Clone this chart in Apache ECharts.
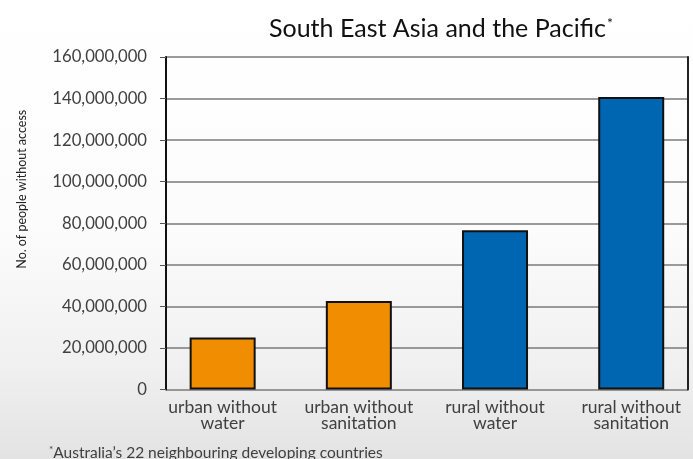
<!DOCTYPE html>
<html>
<head>
<meta charset="utf-8">
<title>South East Asia and the Pacific</title>
<script src="https://cdn.jsdelivr.net/npm/echarts@6/dist/echarts.min.js"></script>
<style>
  html, body { margin: 0; padding: 0; background: #fff; }
  #chart { width: 693px; height: 459px; }
</style>
</head>
<body>
<div id="chart"></div>
<script>
// Categories (line breaks as printed under each bar)
const categories = [
  'urban without\nwater',
  'urban without\nsanitation',
  'rural without\nwater',
  'rural without\nsanitation'
];
// Number of people without access
const peopleWithoutAccess = [25000000, 42600000, 76600000, 140800000];
// Area of each category: urban bars are orange, rural bars blue
const area = ['urban', 'urban', 'rural', 'rural'];

const yTicks = { min: 0, max: 160000000, interval: 20000000 };

const areaColor = { urban: '#F18D00', rural: '#0066B1' };
const font = 'Lato, "Open Sans", "DejaVu Sans", sans-serif';
const textColor = '#404040';

const fmt = v => String(v).replace(/\B(?=(\d{3})+(?!\d))/g, ',');

const chart = echarts.init(document.getElementById('chart'), null, { renderer: 'canvas' });

chart.setOption({
  animation: false,
  backgroundColor: {
    type: 'linear', x: 0, y: 0, x2: 0, y2: 1,
    colorStops: [
      { offset: 0, color: '#ffffff' },
      { offset: 0.5, color: '#fcfcfc' },
      { offset: 0.8, color: '#f0f0f0' },
      { offset: 1, color: '#e3e3e3' }
    ]
  },
  textStyle: { fontFamily: font },
  title: [
    {
      text: 'South East Asia and the Pacific{s|*}',
      left: 264,
      top: 11,
      textStyle: {
        fontFamily: font,
        fontSize: 25,
        fontWeight: 'normal',
        color: '#111',
        rich: {
          s: { fontFamily: font, fontSize: 14, color: '#111', verticalAlign: 'top', padding: [0, 0, 11, 1] }
        }
      }
    },
    {
      text: '{s|*}Australia\u2019s 22 neighbouring developing countries',
      left: 44,
      top: 440,
      textStyle: {
        fontFamily: font,
        fontSize: 15.5,
        fontWeight: 'normal',
        color: textColor,
        rich: {
          s: { fontFamily: font, fontSize: 10, color: textColor, verticalAlign: 'top', padding: [0, 0, 6, 0] }
        }
      }
    }
  ],
  grid: {
    left: 166,
    right: 5,
    top: 57,
    bottom: 69.5,
    containLabel: false
  },
  xAxis: {
    type: 'value',
    min: -0.416,
    max: 3.417,
    show: false
  },
  yAxis: [
    {
      type: 'value',
      min: yTicks.min,
      max: yTicks.max,
      interval: yTicks.interval,
      name: 'No. of people without access',
      nameLocation: 'middle',
      nameRotate: 90,
      nameGap: 138,
      nameTextStyle: {
        fontFamily: font,
        fontSize: 12.5,
        color: '#222',
        padding: [0, 0, 0, 68]
      },
      axisLine: { show: true, onZero: false, lineStyle: { color: '#111', width: 2 } },
      axisTick: { show: true, length: 6, lineStyle: { color: '#555', width: 1 } },
      splitLine: { show: true, lineStyle: { color: '#7a7a7a', width: 1.5 } },
      axisLabel: {
        fontFamily: font,
        fontSize: 16.7,
        color: textColor,
        margin: 19,
        formatter: v => fmt(v)
      }
    },
    {
      type: 'value',
      position: 'right',
      min: yTicks.min,
      max: yTicks.max,
      interval: yTicks.interval,
      axisLine: { show: true, onZero: false, lineStyle: { color: '#222', width: 2 } },
      axisTick: { show: false },
      axisLabel: { show: false },
      splitLine: { show: false }
    }
  ],
  series: [
    {
      type: 'bar',
      xAxisIndex: 0,
      yAxisIndex: 0,
      barWidth: 66,
      data: peopleWithoutAccess.map((v, i) => ({
        name: categories[i],
        value: [i, v],
        itemStyle: { color: areaColor[area[i]] }
      })),
      itemStyle: { borderColor: '#111', borderWidth: 2 },
      label: {
        show: true,
        position: 'bottom',
        distance: 10,
        formatter: p => p.name,
        fontFamily: font,
        fontSize: 17.5,
        lineHeight: 16,
        color: textColor
      }
    }
  ]
});
</script>
</body>
</html>
